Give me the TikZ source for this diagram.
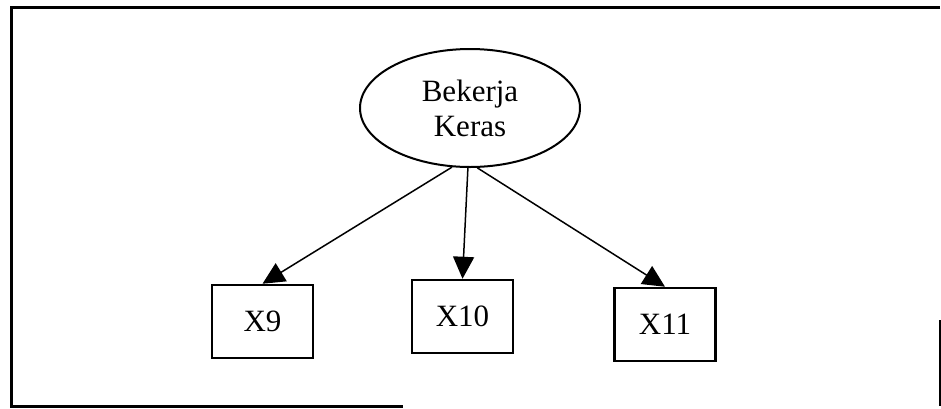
\documentclass[tikz,border=0pt]{standalone}
\usepackage{fontspec}
\setmainfont{Liberation Serif}
\usetikzlibrary{shapes.geometric,arrows.meta}
\begin{document}
\begin{tikzpicture}[x=1pt,y=-1pt,
  latent/.style={ellipse,draw,line width=2pt,minimum width=220pt,minimum height=118pt,
    inner sep=0pt,align=center,font=\fontsize{31}{35}\selectfont},
  indicator/.style={rectangle,draw,line width=2.5pt,minimum width=101pt,minimum height=73pt,
    inner sep=0pt,font=\fontsize{31}{35}\selectfont},
  link/.style={line width=1.5pt,-{Triangle[length=22pt,width=21pt]}}]
\useasboundingbox (0,0) rectangle (941,408);
% outer frame
\draw[line width=3pt] (940,7) -- (11,7) -- (11,406) -- (403,406);
\draw[line width=2pt] (940,320) -- (940,406);
% construct and its indicators
\node[latent] (e) at (470,108) {Bekerja\\Keras};
\node[indicator] (x9) at (262.5,321.5) {X9};
\node[indicator] (x10) at (462.5,316.5) {X10};
\node[indicator] (x11) at (665,324.5) {X11};
% loadings
\draw[link] (e.253) -- (x9.north);
\draw[link] (e.268) -- (x10.north);
\draw[link] (e.277) -- (x11.north);
\end{tikzpicture}
\end{document}
